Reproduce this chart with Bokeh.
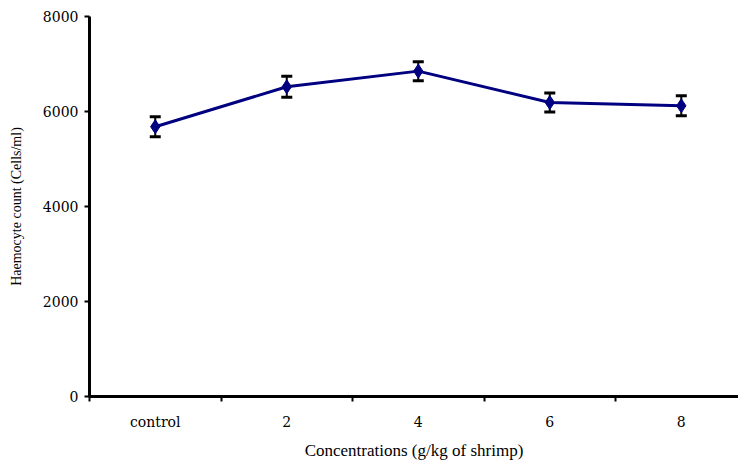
from bokeh.plotting import figure
from bokeh.models import ColumnDataSource, Range1d, FixedTicker, Whisker, TeeHead
from bokeh.embed import file_html
from bokeh.resources import INLINE

categories = ["control", "2", "4", "6", "8"]
means = [5680, 6520, 6850, 6190, 6120]
errors = [210, 220, 200, 200, 210]
y_ticks = [0, 2000, 4000, 6000, 8000]

xs = [i + 0.5 for i in range(len(categories))]
src = ColumnDataSource(dict(
    x=xs, y=means,
    upper=[m + e for m, e in zip(means, errors)],
    lower=[m - e for m, e in zip(means, errors)],
))

p = figure(width=738, height=462, output_backend="svg", toolbar_location=None,
           x_range=Range1d(0, 4.935), y_range=Range1d(0, 8000),
           min_border_left=89, min_border_right=0, min_border_top=16, min_border_bottom=62)
p.outline_line_color = None
p.xgrid.visible = False
p.ygrid.visible = False
p.background_fill_color = "white"
p.border_fill_color = "white"

p.line("x", "y", source=src, line_color="#000080", line_width=3)
w = Whisker(source=src, base="x", upper="upper", lower="lower",
            line_color="black", line_width=2,
            upper_head=TeeHead(size=11, line_width=3, line_color="black"),
            lower_head=TeeHead(size=11, line_width=3, line_color="black"))
p.add_layout(w)
p.scatter("x", "y", source=src, marker="diamond", size=14,
          fill_color="#000080", line_color="#000080")

font = "'Liberation Serif', 'Times New Roman', serif"
tick_font = "DejaVu Serif"
# x axis
xa = p.xaxis[0]
xa.ticker = FixedTicker(ticks=xs, minor_ticks=list(range(len(categories) + 1)))
xa.major_label_overrides = {x: c for x, c in zip(xs, categories)}
xa.major_tick_out = 0
xa.major_tick_in = 0
xa.minor_tick_out = 5
xa.minor_tick_in = 0
xa.minor_tick_line_width = 2
xa.minor_tick_line_color = "black"
xa.axis_line_width = 3
xa.axis_line_color = "black"
xa.major_label_text_font = tick_font
xa.major_label_text_font_size = "14px"
xa.major_label_text_font_style = "normal"
xa.major_label_text_color = "black"
xa.major_label_standoff = 12
xa.axis_label = "Concentrations (g/kg of shrimp)"
xa.axis_label_text_font = font
xa.axis_label_text_font_size = "17px"
xa.axis_label_text_font_style = "normal"
xa.axis_label_text_color = "black"
xa.axis_label_standoff = 8

ya = p.yaxis[0]
ya.ticker = FixedTicker(ticks=y_ticks, minor_ticks=[])
ya.major_tick_out = 5
ya.major_tick_in = 0
ya.major_tick_line_width = 2
ya.axis_line_width = 3
ya.axis_line_color = "black"
ya.major_label_text_font = tick_font
ya.major_label_text_font_size = "14px"
ya.major_label_text_font_style = "normal"
ya.major_label_text_color = "black"
ya.major_label_standoff = 6
ya.axis_label = "Haemocyte count (Cells/ml)"
ya.axis_label_text_font = font
ya.axis_label_text_font_size = "14px"
ya.axis_label_text_font_style = "normal"
ya.axis_label_text_color = "black"
ya.axis_label_standoff = 16

open("out.html", "w").write(file_html(p, INLINE))
